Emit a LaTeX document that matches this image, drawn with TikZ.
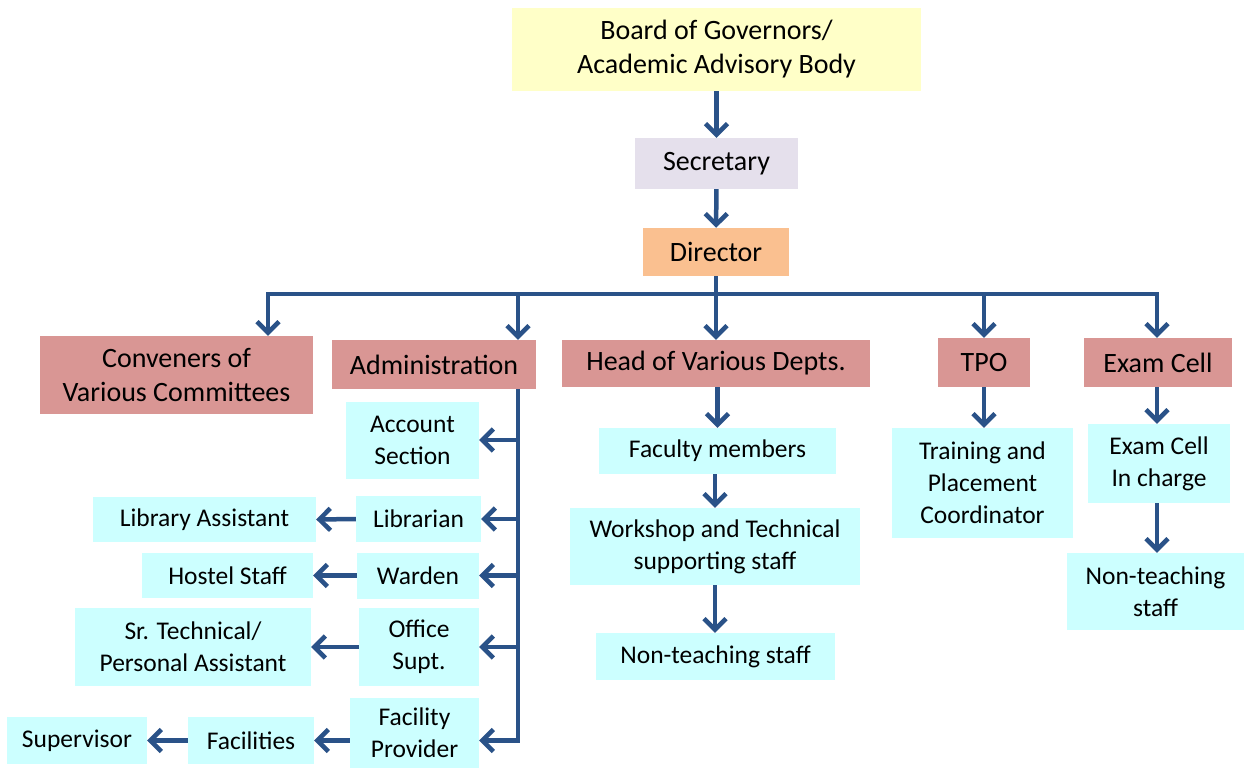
\documentclass[tikz,border=0pt]{standalone}
\usepackage{fontspec}
\setmainfont{Carlito}
\usetikzlibrary{arrows.meta}
\definecolor{boardyellow}{HTML}{FFFFC8}
\definecolor{seclilac}{HTML}{E5E0EC}
\definecolor{dirpeach}{HTML}{FAC090}
\definecolor{unitrose}{HTML}{D99694}
\definecolor{staffcyan}{HTML}{CCFFFF}
\definecolor{linknavy}{HTML}{2A5288}
\begin{document}
\begin{tikzpicture}[x=1pt,y=-1pt,
  box/.style={inner sep=0pt, align=center, font=\fontsize{28}{34}\selectfont},
  topbox/.style={box, fill=#1},
  unitbox/.style={box, fill=unitrose},
  staffbox/.style={box, fill=staffcyan, font=\fontsize{25.5}{32}\selectfont},
  link/.style={draw=linknavy, line width=4.5pt},
  arr/.style={link, -{Straight Barb[length=11pt,width=22pt]}}]
\useasboundingbox (0,0) rectangle (1244,770);
% top of the chart
\node[topbox=boardyellow, minimum width=409, minimum height=83] (board) at (716.5,49.5) {Board of Governors/\\Academic Advisory Body};
\node[topbox=seclilac, minimum width=163, minimum height=51] (sec) at (716.5,163.5) {Secretary};
\node[topbox=dirpeach, minimum width=146, minimum height=48] (dir) at (716,252) {Director};
% units under the director
\node[unitbox, minimum width=273, minimum height=78] (conv) at (176.5,375) {Conveners of\\Various Committees};
\node[unitbox, minimum width=204, minimum height=49] (adm) at (434,364.5) {Administration};
\node[unitbox, minimum width=308, minimum height=47] (head) at (716,363.5) {Head of Various Depts.};
\node[unitbox, minimum width=92, minimum height=49] (tpo) at (984,362.5) {TPO};
\node[unitbox, minimum width=148, minimum height=49] (exam) at (1158,362.5) {Exam Cell};
% administration staff
\node[staffbox, minimum width=133, minimum height=77] (acc) at (412.5,440) {Account\\Section};
\node[staffbox, minimum width=125, minimum height=46] (lib) at (418.5,519) {Librarian};
\node[staffbox, minimum width=122, minimum height=46] (war) at (418,575.5) {Warden};
\node[staffbox, minimum width=120, minimum height=78] (off) at (419,647) {Office\\Supt.};
\node[staffbox, minimum width=129, minimum height=70] (fp) at (414.5,733) {Facility\\Provider};
\node[staffbox, minimum width=223, minimum height=45] (libas) at (204.5,519.5) {Library Assistant};
\node[staffbox, minimum width=171, minimum height=45] (hos) at (227.5,575.5) {Hostel Staff};
\node[staffbox, minimum width=236, minimum height=78] (srt) at (193,647) {Sr. Technical/\\Personal Assistant};
\node[staffbox, minimum width=126, minimum height=47] (fcl) at (251,740.5) {Facilities};
\node[staffbox, minimum width=140, minimum height=47] (sup) at (77,740.5) {Supervisor};
% departments
\node[staffbox, minimum width=237, minimum height=46] (fm) at (717.5,451) {Faculty members};
\node[staffbox, minimum width=290, minimum height=77] (ws) at (715,546.5) {Workshop and Technical\\supporting staff};
\node[staffbox, minimum width=239, minimum height=47] (ntd) at (715.5,656.5) {Non-teaching staff};
% TPO and exam cell
\node[staffbox, minimum width=181, minimum height=110] (tpc) at (982.5,483) {Training and\\Placement\\Coordinator};
\node[staffbox, minimum width=142, minimum height=79] (eic) at (1159,463.5) {Exam Cell\\In charge};
\node[staffbox, minimum width=177, minimum height=77] (nte) at (1155.5,591.5) {Non-teaching\\staff};
% connectors
\coordinate (busL) at (268,294);
\coordinate (busR) at (1157,294);
\coordinate (admX) at (518,294);
\draw[arr] (board) -- (sec);
\draw[arr] (sec) -- (dir);
\draw[link] (dir.south) -- (dir.south |- busL);
\draw[link, {Straight Barb[length=11pt,width=22pt]}-{Straight Barb[length=11pt,width=22pt]}] (busL |- conv.north) -- (busL) -- (busR) -- (busR |- exam.north);
\draw[arr] (admX) -- (admX |- adm.north);
\draw[arr] (dir.south |- busL) -- (head.north);
\draw[arr] (tpo.north |- busL) -- (tpo.north);
\draw[arr] (admX |- adm.south) -- (admX |- fcl) -- (fp.east |- fcl);
\draw[arr] (admX |- acc) -- (acc.east);
\draw[arr] (admX |- lib) -- (lib.east);
\draw[arr] (admX |- war) -- (war.east);
\draw[arr] (admX |- off) -- (off.east);
\draw[arr] (lib.west) -- (libas.east);
\draw[arr] (war.west) -- (hos.east);
\draw[arr] (off.west) -- (srt.east);
\draw[arr] (fp.west |- fcl) -- (fcl.east);
\draw[arr] (fcl.west) -- (sup.east);
\draw[arr] (head.south -| fm.north) -- (fm.north);
\draw[arr] (fm.south -| ws.north) -- (ws.north);
\draw[arr] (ws.south) -- (ntd.north -| ws.south);
\draw[arr] (tpo.south) -- (tpo.south |- tpc.north);
\draw[arr] (busR |- exam.south) -- (busR |- eic.north);
\draw[arr] (busR |- eic.south) -- (busR |- nte.north);
\end{tikzpicture}
\end{document}
